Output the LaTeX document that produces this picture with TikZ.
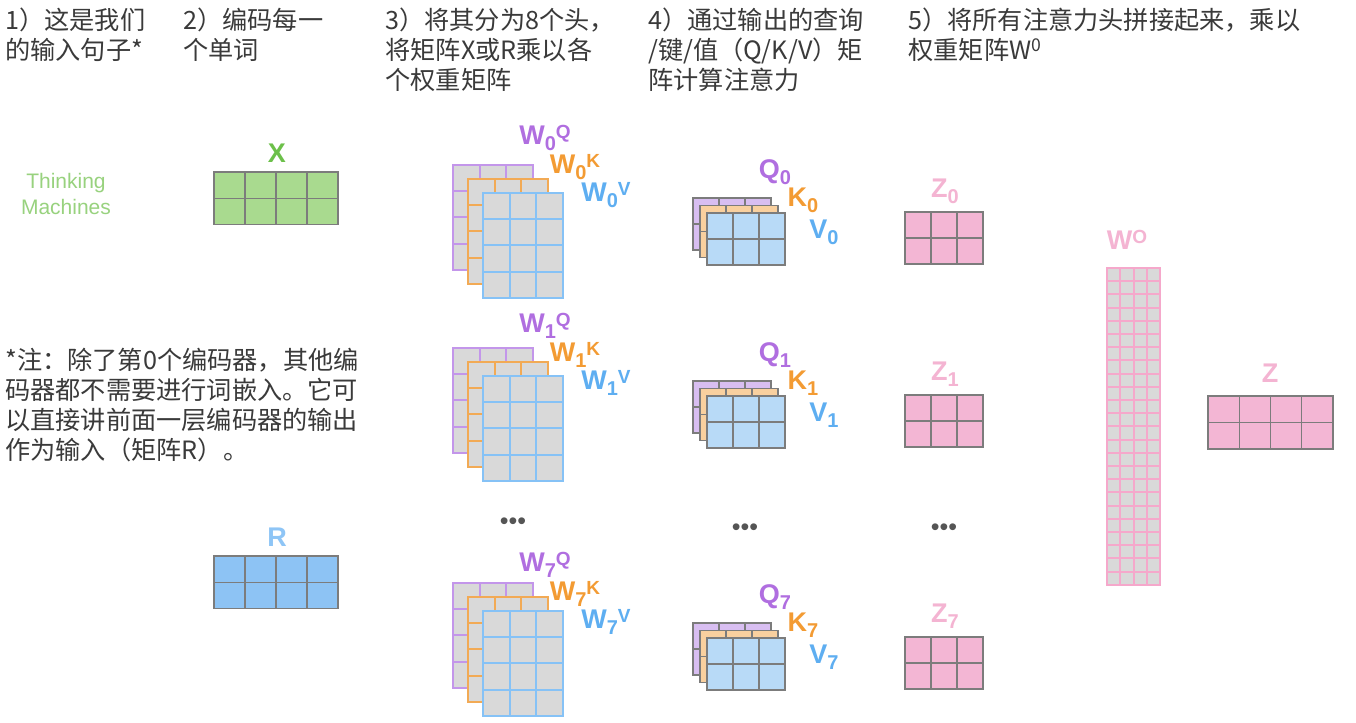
\documentclass[tikz,border=0pt]{standalone}
\usepackage{fontspec}
\setmainfont{Liberation Sans}
\newfontfamily\cjkfont{Noto Sans CJK SC}
\usepackage{tikz}
\usetikzlibrary{
    positioning,                      % right=of, below=of, etc.
    calc                              % aritmetica de coordenadas
}
\definecolor{txt_gray}{HTML}{3A3A3A}
\definecolor{word_green}{HTML}{98D27E}
\definecolor{x_green}{HTML}{6CC04A}
\definecolor{x_fill}{HTML}{A9DA8F}
\definecolor{r_blue}{HTML}{8EC5F6}
\definecolor{r_fill}{HTML}{8DC3F4}
\definecolor{q_purple}{HTML}{B06EE0}
\definecolor{k_orange}{HTML}{F39B33}
\definecolor{v_blue}{HTML}{5EAEF1}
\definecolor{wq_line}{HTML}{C396EA}
\definecolor{wk_line}{HTML}{F2AA55}
\definecolor{wv_line}{HTML}{86C2F6}
\definecolor{w_fill}{HTML}{D9D9D9}
\definecolor{q_fill}{HTML}{D8BEF1}
\definecolor{k_fill}{HTML}{F9D09F}
\definecolor{v_fill}{HTML}{B8DAF7}
\definecolor{z_fill}{HTML}{F3B6D4}
\definecolor{z_pink}{HTML}{F4B4D2}
\definecolor{wo_line}{HTML}{F5A8CB}
\definecolor{cell_line}{HTML}{7C7C7C}
\definecolor{dot_gray}{HTML}{555555}
\tikzset{
    header/.style={
        anchor=north west, align=left, inner sep=0pt,
        font=\cjkfont\fontsize{12.6}{15}\selectfont, text=txt_gray
    },
    mlabel/.style={
        inner sep=0pt, font=\bfseries\fontsize{13.5}{14}\selectfont
    },
    dots/.style={
        inner sep=0pt, font=\fontsize{12.5}{12}\selectfont, text=dot_gray
    },
    xin/.style={fill=x_fill, draw=cell_line, line width=0.7pt},
    rin/.style={fill=r_fill, draw=cell_line, line width=0.7pt},
    wq/.style={fill=w_fill, draw=wq_line, line width=1pt},
    wk/.style={fill=w_fill, draw=wk_line, line width=1pt},
    wv/.style={fill=w_fill, draw=wv_line, line width=1pt},
    qm/.style={fill=q_fill, draw=cell_line, line width=0.7pt},
    km/.style={fill=k_fill, draw=cell_line, line width=0.7pt},
    vm/.style={fill=v_fill, draw=cell_line, line width=0.7pt},
    zm/.style={fill=z_fill, draw=cell_line, line width=0.7pt},
    wo/.style={fill=w_fill, draw=wo_line, line width=1pt}
}
% indices de las etiquetas
\newcommand{\subr}[1]{\raisebox{-0.22em}{\fontsize{10}{10}\selectfont #1}}
\newcommand{\supr}[1]{\raisebox{0.24em}{\fontsize{9.5}{10}\selectfont #1}}
% celdas: estilo, x, y, columnas, filas, ancho, alto
\newcommand{\matcells}[7]{%
    \fill[#1] (#2,#3) rectangle ++({#4*#6},{#5*#7});
    \foreach \c in {0,...,#4}
        \draw[#1] ({#2+\c*#6},#3) -- ++(0,{#5*#7});
    \foreach \r in {0,...,#5}
        \draw[#1] (#2,{#3+\r*#7}) -- ++({#4*#6},0);
}
% cabeza: y superior, indice, y de la etiqueta Q
\newcommand{\wheads}[3]{%
    \matcells{wq}{453}{#1}{3}{4}{26.5}{26.2}
    \matcells{wk}{468}{#1+14}{3}{4}{26.5}{26.2}
    \matcells{wv}{483}{#1+28}{3}{4}{26.5}{26.2}
    \node[mlabel, text=q_purple] (wq#2) at (545,#3) {W\subr{#2}\supr{Q}};
    \node[mlabel, text=k_orange] (wk#2) at (575,#3+29) {W\subr{#2}\supr{K}};
    \node[mlabel, text=v_blue]   (wv#2) at (606,#3+57) {W\subr{#2}\supr{V}};
}
% Q/K/V: y superior, indice
\newcommand{\qkvheads}[2]{%
    \matcells{qm}{693}{#1}{3}{2}{26}{26}
    \matcells{km}{700}{#1+7.5}{3}{2}{26}{26}
    \matcells{vm}{707}{#1+15}{3}{2}{26}{26}
    \node[mlabel, text=q_purple] (q#2) at (775,#1-26) {Q\subr{#2}};
    \node[mlabel, text=k_orange] (k#2) at (803,#1+2) {K\subr{#2}};
    \node[mlabel, text=v_blue]   (v#2) at (824,#1+34) {V\subr{#2}};
}
\newcommand{\zhead}[2]{%
    \matcells{zm}{905}{#1}{3}{2}{26}{26}
    \node[mlabel, text=z_pink] (z#2) at (945,#1-21) {Z\subr{#2}};
}

\begin{document}
\begin{tikzpicture}[x=0.5pt, y=-0.5pt]
    \fill[white] (0,0) rectangle (1356,723);
    \useasboundingbox (0,0) rectangle (1356,723);

    % cabeceras
    \node[header] (h1) at (5,8)   {1）这是我们\\的输入句子*};
    \node[header] (h2) at (183,8) {2）编码每一\\个单词};
    \node[header] (h3) at (385,8) {3）将其分为8个头，\\将矩阵X或R乘以各\\个权重矩阵};
    \node[header] (h4) at (648,8) {4）通过输出的查询\\/键/值（Q/K/V）矩\\阵计算注意力};
    \node[header] (h5) at (908,8) {5）将所有注意力头拼接起来，乘以\\权重矩阵W\textsuperscript{0}};
    \node[header] (nota) at (5,348)
        {*注：除了第0个编码器，其他编\\码器都不需要进行词嵌入。它可\\以直接讲前面一层编码器的输出\\作为输入（矩阵R）。};

    % entrada
    \node[align=center, inner sep=0pt, text=word_green,
        font=\fontsize{10.5}{13}\selectfont] (words) at (66,194) {Thinking\\Machines};
    \matcells{xin}{214}{172}{4}{2}{31}{26.3}
    \node[mlabel, text=x_green] (x) at (277,153) {X};
    \matcells{rin}{214}{556}{4}{2}{31}{26.3}
    \node[mlabel, text=r_blue] (r) at (277,537) {R};

    % cabezas de atencion
    \wheads{165}{0}{138}
    \wheads{348}{1}{326}
    \wheads{583}{7}{565}
    \qkvheads{198}{0}
    \qkvheads{381}{1}
    \qkvheads{623}{7}
    \zhead{212}{0}
    \zhead{395}{1}
    \zhead{637}{7}
    \node[dots] (d1) at (513,524) {•••};
    \node[dots] (d2) at (745,530) {•••};
    \node[dots] (d3) at (944,530) {•••};

    % proyeccion de salida
    \matcells{wo}{1107}{268}{4}{24}{13.3}{13.2}
    \node[mlabel, text=z_pink] (wout) at (1127,240) {W\supr{O}};
    \matcells{zm}{1208}{396}{4}{2}{31.25}{26.5}
    \node[mlabel, text=z_pink] (z) at (1270,373) {Z};
\end{tikzpicture}
\end{document}
